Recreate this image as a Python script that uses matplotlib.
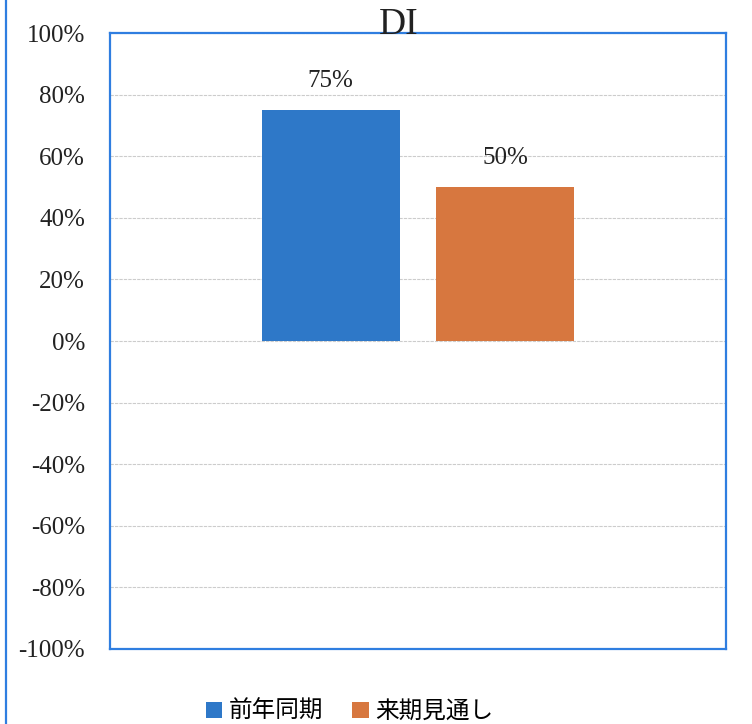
import numpy as np
import matplotlib.pyplot as plt
from matplotlib.patches import Patch
from matplotlib.lines import Line2D

# Data
categories = ['前年同期', '来期見通し']
values = [75, 50]
colors = ['#2E78C8', '#D7773F']
yticks = [-100, -80, -60, -40, -20, 0, 20, 40, 60, 80, 100]

serif = ['Liberation Serif', 'DejaVu Serif']
cjk = ['Noto Sans CJK JP', 'DejaVu Sans']

fig = plt.figure(figsize=(7.52, 7.24), dpi=100)
ax = fig.add_axes([0.1463, 0.1036, 0.819, 0.8508])

x = np.arange(len(values))
bars = ax.bar(x, values, width=0.79, color=colors, zorder=3)

ax.set_xlim(-1.263, 2.263)
ax.set_ylim(-100, 100)
ax.set_yticks(yticks)
ax.set_yticklabels([f'{v}%' for v in yticks], family=serif, fontsize=18, color='#222222')
ax.tick_params(axis='y', length=0, pad=18)
ax.set_xticks([])
ax.grid(axis='y', color='#cccccc', lw=0.8, ls=(0, (3, 1)), zorder=0)

for s in ax.spines.values():
    s.set_color('#2f7ee0')
    s.set_linewidth(1.6)

for b, v in zip(bars, values):
    ax.text(b.get_x() + b.get_width() / 2, v + 6, f'{v}%', ha='center', va='bottom',
            family=serif, fontsize=18, color='#222222')

fig.text(0.53, 0.966, 'DI', ha='center', va='center', family=serif, fontsize=27, color='#222222')

handles = [Patch(facecolor=c) for c in colors]
leg = fig.legend(handles, categories, loc='center', bbox_to_anchor=(0.465, 0.017), ncol=2,
                 frameon=False, prop={'family': cjk, 'size': 17}, handlelength=0.7,
                 handleheight=0.7, handletextpad=0.3, columnspacing=1.2)

# page border line on the left
fig.add_artist(Line2D([0.008, 0.008], [0, 1], color='#2f7ee0', lw=1.6, transform=fig.transFigure))

fig.savefig('out.png', dpi=100, facecolor='white')
